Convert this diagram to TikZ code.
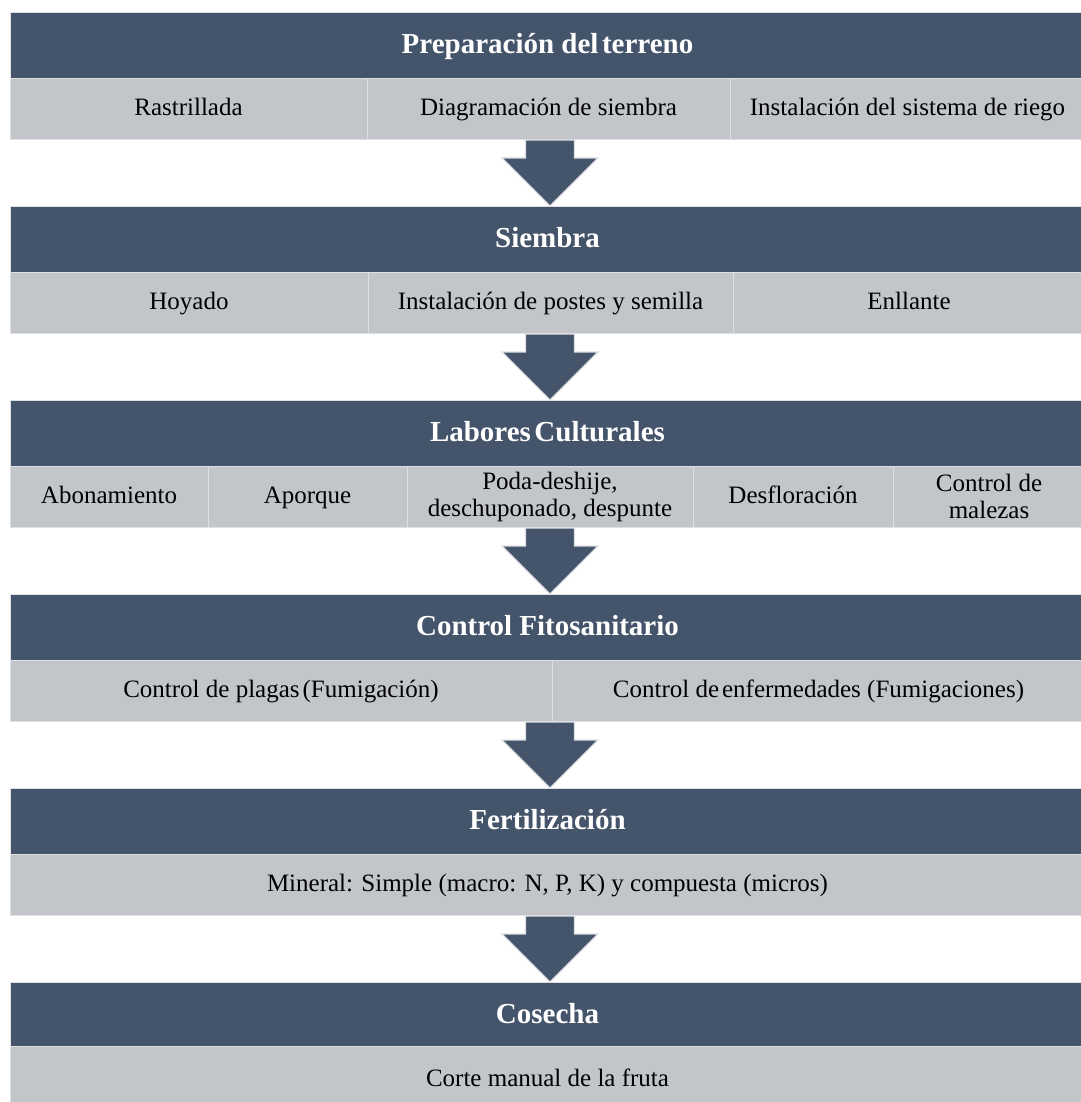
\documentclass[tikz,border=0pt]{standalone}
\usepackage{fontspec}
\setmainfont{Liberation Serif}
\definecolor{hdr}{HTML}{44546A}
\definecolor{cellc}{HTML}{C2C5CA}
\definecolor{edgec}{HTML}{DEE0E3}
\tikzset{
  hdrbox/.style={fill=hdr, draw=edgec, line width=0.8pt, inner sep=0pt, outer sep=0pt,
    anchor=north west, text=white, font=\fontsize{29}{32}\selectfont\bfseries,
    minimum height=66pt, text height=21pt, text depth=4pt},
  cellbox/.style={fill=cellc, draw=edgec, line width=0.8pt, inner sep=0pt, outer sep=0pt,
    anchor=north west, text=black, font=\fontsize{25}{27}\selectfont,
    minimum height=61pt, align=center},
  oneline/.style={text height=18pt, text depth=4pt},
  flowarrow/.style={fill=hdr, draw=edgec, line width=1.2pt, line join=miter},
  pics/downarrow/.style={code={
    \draw[flowarrow] (-24.5,0) -- (24.5,0) -- (24.5,18) -- (48,18) -- (0,66)
      -- (-48,18) -- (-24.5,18) -- cycle;}}
}
\newcommand{\tsp}{\hspace{0.12em}}
\begin{document}
\begin{tikzpicture}[x=1pt,y=-1pt]
\useasboundingbox[fill=white] (0,0) rectangle (1080,1102);

% Block 1
\node[hdrbox, minimum width=1075pt] (h1) at (10,12) {Preparación del\tsp terreno};
\node[cellbox, oneline, minimum width=357pt] (c11) at (10,78) {Rastrillada};
\node[cellbox, oneline, minimum width=363pt] (c12) at (367,78) {Diagramación de siembra};
\node[cellbox, oneline, minimum width=355pt] (c13) at (730,78) {Instalación del sistema de riego};
\coordinate (a1) at (550,140);
\pic at (a1) {downarrow};

% Block 2
\node[hdrbox, minimum width=1075pt] (h2) at (10,206) {Siembra};
\node[cellbox, oneline, minimum width=358pt] (c21) at (10,272) {Hoyado};
\node[cellbox, oneline, minimum width=365pt] (c22) at (368,272) {Instalación de postes y semilla};
\node[cellbox, oneline, minimum width=352pt] (c23) at (733,272) {Enllante};
\coordinate (a2) at (550,334);
\pic at (a2) {downarrow};

% Block 3
\node[hdrbox, minimum width=1075pt] (h3) at (10,400) {Labores\tsp Culturales};
\node[cellbox, oneline, minimum width=198pt] (c31) at (10,466) {Abonamiento};
\node[cellbox, oneline, minimum width=199pt] (c32) at (208,466) {Aporque};
\node[cellbox, minimum width=286pt] (c33) at (407,466) {Poda-deshije,\\deschuponado, despunte};
\node[cellbox, oneline, minimum width=200pt] (c34) at (693,466) {Desfloración};
\node[cellbox, minimum width=192pt] (c35) at (893,466) {Control de\\malezas};
\coordinate (a3) at (550,528);
\pic at (a3) {downarrow};

% Block 4
\node[hdrbox, minimum width=1075pt] (h4) at (10,594) {Control Fitosanitario};
\node[cellbox, oneline, minimum width=542pt] (c41) at (10,660) {Control de plagas\tsp(Fumigación)};
\node[cellbox, oneline, minimum width=533pt] (c42) at (552,660) {Control de\tsp enfermedades (Fumigaciones)};
\coordinate (a4) at (550,722);
\pic at (a4) {downarrow};

% Block 5
\node[hdrbox, minimum width=1075pt] (h5) at (10,788) {Fertilización};
\node[cellbox, oneline, minimum width=1075pt] (c51) at (10,854) {Mineral: Simple (macro: N, P, K) y compuesta (micros)};
\coordinate (a5) at (550,916);
\pic at (a5) {downarrow};

% Block 6
\node[hdrbox, minimum width=1075pt] (h6) at (10,982) {Cosecha};
\node[cellbox, oneline, minimum width=1075pt, minimum height=66pt] (c61) at (10,1046) {Corte manual de la fruta};
\end{tikzpicture}
\end{document}
